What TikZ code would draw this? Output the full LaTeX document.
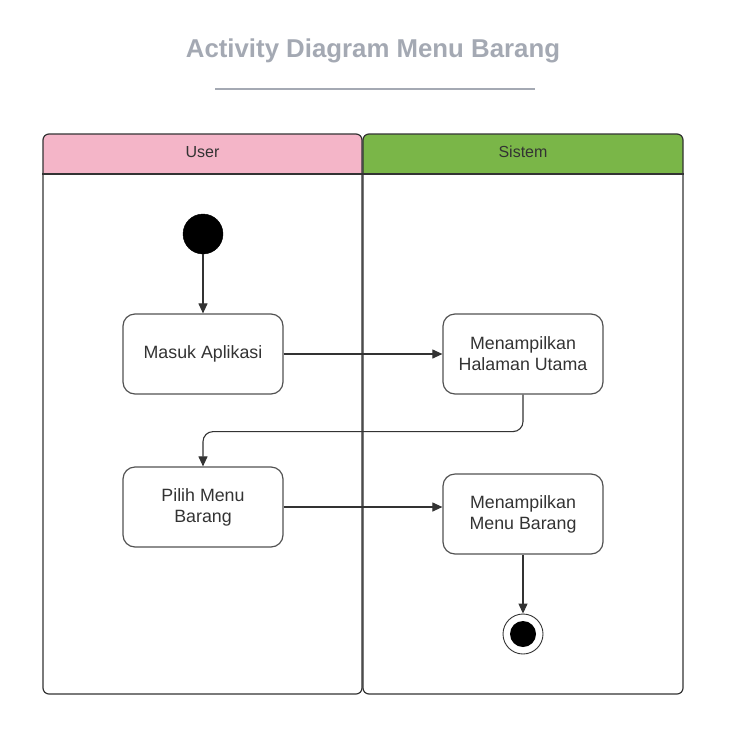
\documentclass[tikz,border=0pt]{standalone}
\usepackage{fontspec}
\setmainfont{Liberation Sans}
\usetikzlibrary{arrows.meta}

\definecolor{titlegray}{HTML}{A4A9B3}
\definecolor{userpink}{HTML}{F4B5C8}
\definecolor{sistemgreen}{HTML}{7AB648}
\definecolor{linegray}{HTML}{333333}

\begin{document}
\begin{tikzpicture}[x=1pt,y=-1pt,
		lane/.style={draw=linegray,line width=1.2pt,rounded corners=6pt,minimum width=319pt,minimum height=560pt,inner sep=0pt},
		lanehead/.style={text=linegray,font=\fontsize{16}{19}\selectfont,anchor=base},
		activity/.style={draw=linegray!85,line width=1.2pt,rounded corners=12pt,minimum width=160pt,minimum height=80pt,align=center,text=linegray,font=\fontsize{17.8}{21}\selectfont},
		flow/.style={draw=linegray,line width=1.1pt,-{Triangle[length=10pt,width=9pt]}}]
		\useasboundingbox (0,0) rectangle (735,731);
		% title
		\node[anchor=base,text=titlegray,font=\fontsize{25.8}{30}\selectfont\bfseries] (title) at (373,57) {Activity Diagram Menu Barang};
		\draw[titlegray,line width=2pt] (215,89) -- (535,89);
		% swimlanes
		\fill[userpink] (43,174) [rounded corners=6pt] -- (43,134) -- (362,134) [sharp corners] -- (362,174) -- cycle;
		\fill[sistemgreen] (363,174) [rounded corners=6pt] -- (363,134) -- (683,134) [sharp corners] -- (683,174) -- cycle;
		\node[lane] (userlane) at (202.5,414) {};
		\node[lane,minimum width=320pt] (sistemlane) at (523,414) {};
		\draw[linegray,line width=1.2pt] (userlane.west |- 0,174) -- (sistemlane.east |- 0,174);
		\node[lanehead] (user) at (202.5,157.5) {User};
		\node[lanehead] (sistem) at (523,157.5) {Sistem};
		% activities
		\node[circle,fill=black,draw=black,minimum size=40pt,inner sep=0pt] (start) at (203,234) {};
		\node[activity] (masuk) at (203,354) {Masuk Aplikasi};
		\node[activity] (halaman) at (523,354) {Menampilkan\\Halaman Utama};
		\node[activity] (pilih) at (203,507) {Pilih Menu\\Barang};
		\node[activity] (menubarang) at (523,514) {Menampilkan\\Menu Barang};
		\node[circle,draw=linegray,line width=0.9pt,minimum size=40pt,inner sep=0pt,
			path picture={\fill[black] (path picture bounding box.center) circle (13pt);}] (end) at (523,634) {};
		% flows
		\draw[flow] (start) -- (masuk);
		\draw[flow] (masuk) -- (halaman);
		\draw[flow,rounded corners=10pt] (halaman.south) -- ++(0,37) -| (pilih.north);
		\draw[flow] (pilih.east) -- (pilih.east -| menubarang.west);
		\draw[flow] (menubarang) -- (end);
	\end{tikzpicture}
\end{document}
